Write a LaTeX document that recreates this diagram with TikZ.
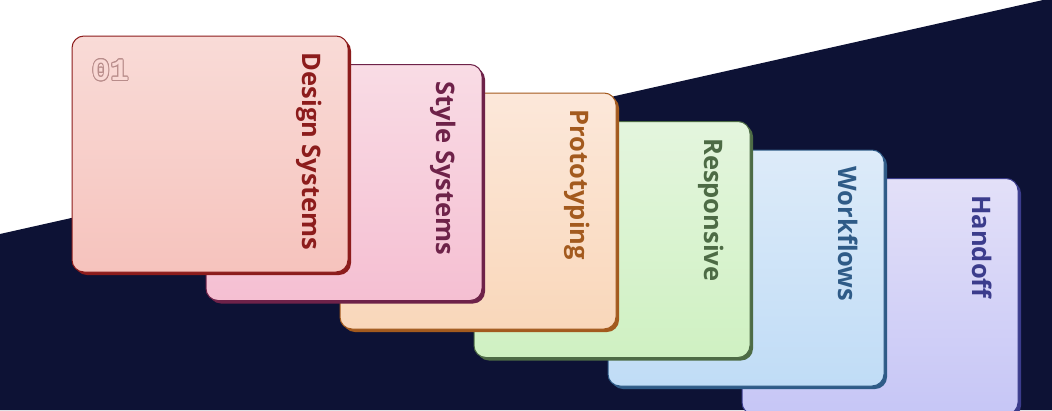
\documentclass[tikz,border=0pt]{standalone}
\usepackage{fontspec}
\setmainfont{Open Sans}
\newfontfamily\numfont{Liberation Mono}
\usepackage[copies]{contour}
\contourlength{0.8pt}
\usepackage{tikz}
\usetikzlibrary{shadows}
\usepackage{xcolor}

\definecolor{navy}{HTML}{0D1235}
\definecolor{numline}{HTML}{B88C8A}
\definecolor{numfill}{HTML}{F9D9D5}
\definecolor{topa}{HTML}{F9DBD7}\definecolor{bota}{HTML}{F6C3BD}\definecolor{edgea}{HTML}{8C1C1C}
\definecolor{topb}{HTML}{F9DCE5}\definecolor{botb}{HTML}{F5BFD2}\definecolor{edgeb}{HTML}{6E2249}
\definecolor{topc}{HTML}{FCE8DA}\definecolor{botc}{HTML}{F9D7BA}\definecolor{edgec}{HTML}{A35A1E}
\definecolor{topd}{HTML}{E4F5DE}\definecolor{botd}{HTML}{CFF1C2}\definecolor{edged}{HTML}{4D6B45}
\definecolor{tope}{HTML}{DDEBF9}\definecolor{bote}{HTML}{C0DCF6}\definecolor{edgee}{HTML}{2F5B87}
\definecolor{topf}{HTML}{E3E0F8}\definecolor{botf}{HTML}{C6C6F6}\definecolor{edgef}{HTML}{3B3C8C}

\tikzset{
  card/.style={rectangle, rounded corners=12pt, minimum width=276pt, minimum height=236pt, line width=1pt},
  cardlabel/.style={rotate=-90, anchor=base west, inner sep=0pt, font=\bfseries\fontsize{25.5}{30}\selectfont}
}

\begin{document}
\begin{tikzpicture}[x=1pt,y=-1pt]
  \useasboundingbox (0,0) rectangle (1052,410);
  \fill[white] (0,0) rectangle (1052,410);
  \fill[navy] (0,234) -- (1052,-2) -- (1052,410) -- (0,410) -- cycle;
  \foreach \i/\txt/\ca/\cb/\ce in {6/Handoff/topf/botf/edgef, 5/Workflows/tope/bote/edgee,
      4/Responsive/topd/botd/edged, 3/Prototyping/topc/botc/edgec,
      2/Style Systems/topb/botb/edgeb, 1/Design Systems/topa/bota/edgea}{
    \node[card, draw=\ce, top color=\ca, bottom color=\cb,
      drop shadow={shadow xshift=3pt, shadow yshift=-3pt, fill=\ce, opacity=1}]
      (card\i) at ({210+134*(\i-1)},{154+28.5*(\i-1)}) {};
    \node[cardlabel, text=\ce] (lab\i) at ([xshift=-46pt,yshift=-17pt]card\i.north east) {\txt};
  }
  \node[anchor=north west, inner sep=0pt, text=numfill, font=\numfont\bfseries\fontsize{31}{36}\selectfont]
    (num) at ([xshift=20pt,yshift=-24pt]card1.north west) {\contour{numline}{01}};
\end{tikzpicture}
\end{document}
